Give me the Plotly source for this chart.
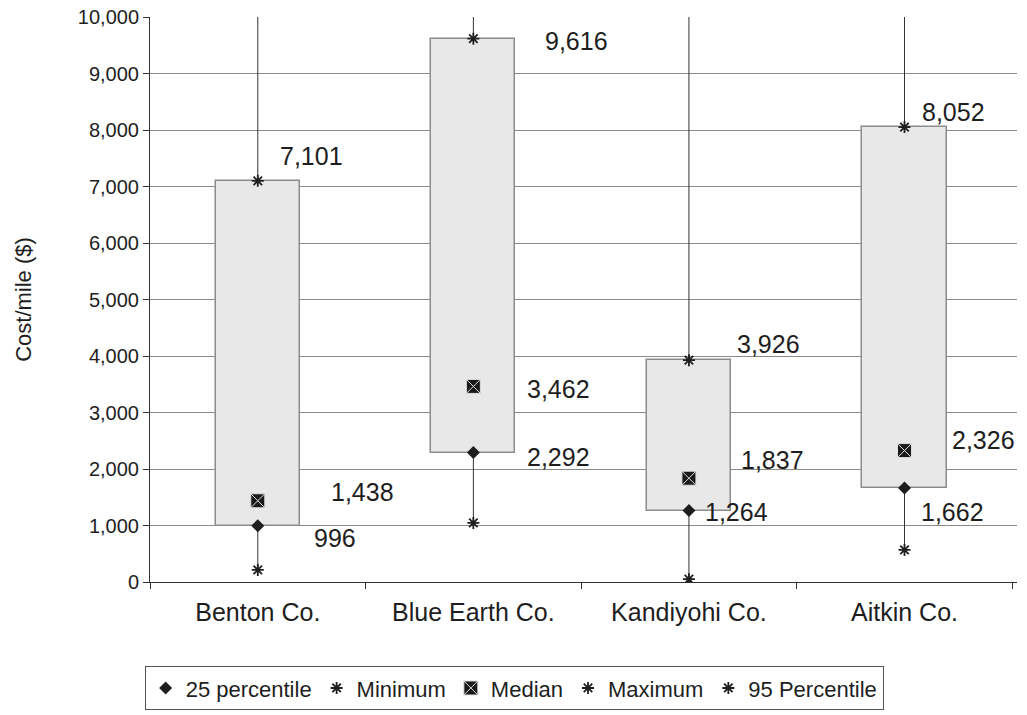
import plotly.graph_objects as go

# Road cost per mile by county
counties = ["Benton Co.", "Blue Earth Co.", "Kandiyohi Co.", "Aitkin Co."]
p25 = [996, 2292, 1264, 1662]
minimum = [213, 1046, 50, 567]
median = [1438, 3462, 1837, 2326]
p95 = [7101, 9616, 3926, 8052]

Y_TOP = 10000

# label offsets in pixels (dx, dy) for each series
p95_off = [(54, 25), (103, -2), (80, 16), (49, 15)]
med_off = [(105, 9), (85, -3), (84, 18), (79, 11)]
p25_off = [(77, -12), (85, -4), (48, -1), (48, -24)]

FONT = "Liberation Sans, Arial, sans-serif"
INK = "#1e1e1e"

fig = go.Figure()

# high-low lines: above the 95th percentile up to the axis top,
# and from the minimum up to the 25th percentile
lx, ly = [], []
for c, lo, q1, hi in zip(counties, minimum, p25, p95):
    lx += [c, c, None, c, c, None]
    ly += [hi, Y_TOP, None, lo, q1, None]
fig.add_trace(go.Scatter(
    x=lx, y=ly, mode="lines", line=dict(color="#333333", width=1),
    showlegend=False, hoverinfo="skip", connectgaps=False))

# floating boxes between 25th and 95th percentile
fig.add_trace(go.Bar(
    x=counties, y=[h - l for h, l in zip(p95, p25)], base=p25, width=0.39,
    marker=dict(color="#e8e8e8", line=dict(color="#8c8c8c", width=1.5)),
    showlegend=False, hoverinfo="skip"))

star = dict(symbol="asterisk-open", size=10, color=INK, line=dict(color=INK, width=1.8))

fig.add_trace(go.Scatter(
    x=counties, y=p25, mode="markers", name="25 percentile",
    marker=dict(symbol="diamond", size=10, color=INK)))
fig.add_trace(go.Scatter(
    x=counties, y=minimum, mode="markers", name="Minimum", marker=star))
fig.add_trace(go.Scatter(
    x=counties, y=median, mode="markers", name="Median",
    marker=dict(symbol="square-x", size=14, color="#1a1a1a",
                line=dict(color="#dddddd", width=1))))
fig.add_trace(go.Scatter(
    x=[counties[0]], y=[None], mode="markers", name="Maximum", marker=star))
fig.add_trace(go.Scatter(
    x=counties, y=p95, mode="markers", name="95 Percentile", marker=star))

# value labels
for series, offs in ((p95, p95_off), (median, med_off), (p25, p25_off)):
    for c, v, (dx, dy) in zip(counties, series, offs):
        fig.add_annotation(x=c, y=v, text=f"{v:,}", showarrow=False,
                           xshift=dx, yshift=dy,
                           font=dict(family=FONT, size=25, color=INK))

fig.update_layout(
    width=1027, height=715,
    margin=dict(l=150, r=10, t=17, b=133, autoexpand=False),
    paper_bgcolor="white", plot_bgcolor="white",
    font=dict(family=FONT, size=20, color=INK),
    showlegend=True,
    legend=dict(orientation="h", x=0.42, xanchor="center", y=-0.149, yanchor="top",
                bordercolor="#555555", borderwidth=1,
                font=dict(family=FONT, size=22, color=INK), itemwidth=30,
                tracegroupgap=0),
    bargap=0,
)
fig.update_xaxes(
    type="category", categoryorder="array", categoryarray=counties,
    showline=True, linecolor="#333333", linewidth=1,
    ticks="outside", tickson="boundaries", ticklen=6, tickcolor="#333333",
    ticklabelstandoff=8,
    showgrid=False, tickfont=dict(family=FONT, size=25, color=INK))
fig.update_yaxes(
    range=[0, Y_TOP], dtick=1000, tickformat=",d",
    showline=True, linecolor="#333333", linewidth=1,
    ticks="outside", ticklen=6, tickcolor="#333333",
    showgrid=True, gridcolor="#8a8a8a", gridwidth=1, zeroline=False,
    title=dict(text="Cost/mile ($)", font=dict(family=FONT, size=22, color=INK), standoff=40),
    tickfont=dict(family=FONT, size=20, color=INK))

fig.write_html("out.html")
